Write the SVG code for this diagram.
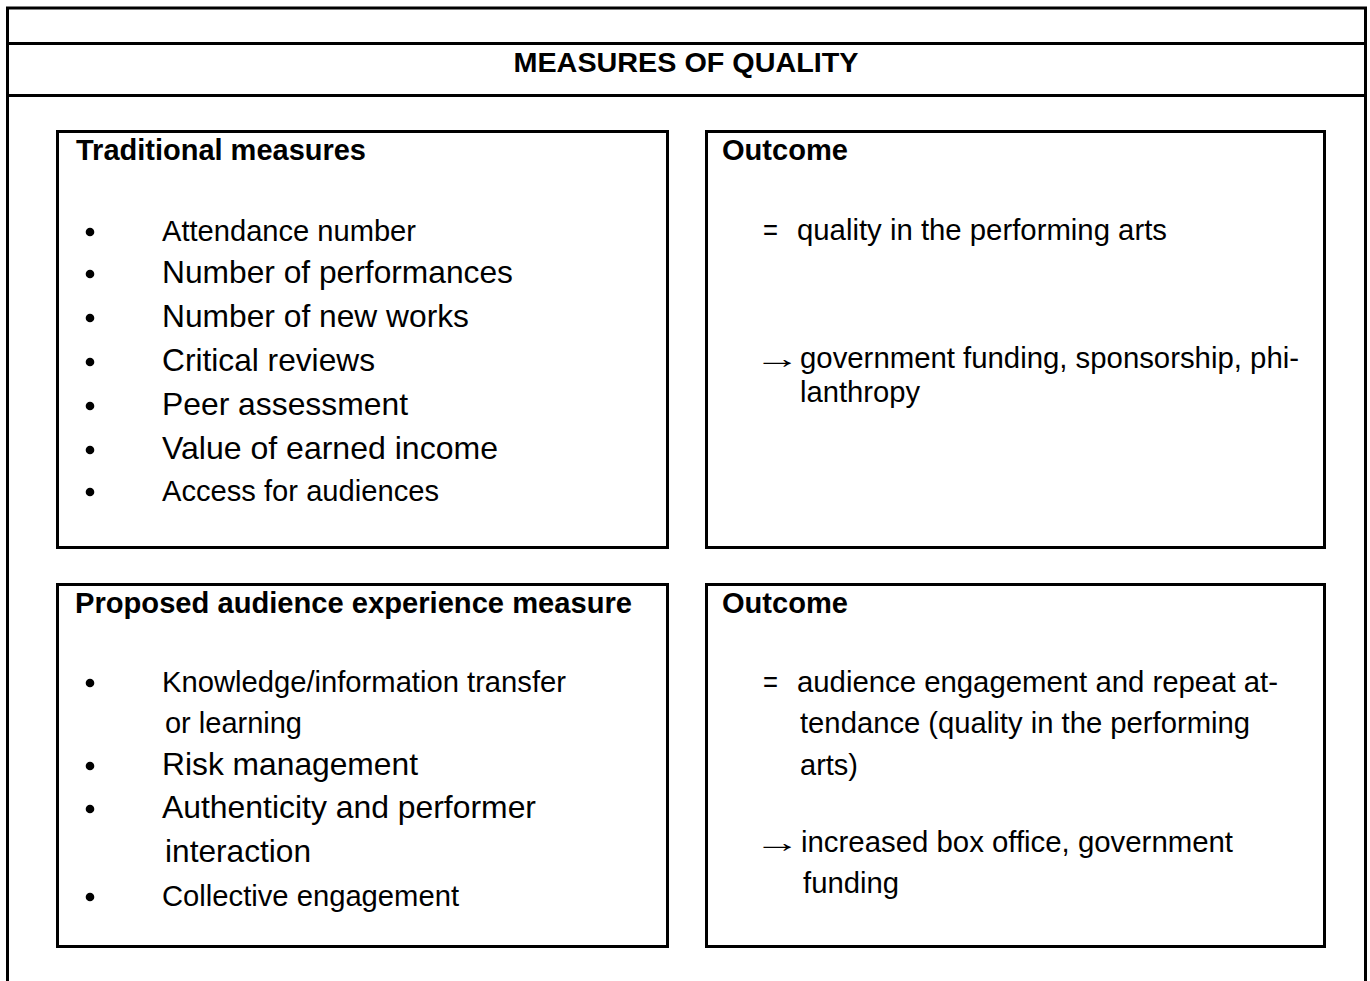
<svg xmlns="http://www.w3.org/2000/svg" width="1370" height="981" viewBox="0 0 1370 981">
  <style>
    .frame { fill: none; stroke: #000; stroke-width: 3; }
    .box { fill: #fff; stroke: #000; stroke-width: 3; }
    .dot { fill: #000; }
    text { font-family: "Liberation Sans", Arial, Helvetica, sans-serif; fill: #000; }
    .title { font-size: 28.5px; font-weight: bold; }
    .head { font-size: 29px; font-weight: bold; }
    .sm { font-size: 29px; }
    .lg { font-size: 31.8px; }
  </style>
  <rect width="1370" height="981" fill="#fff"/>

  <!-- outer table frame with title row -->
  <g id="frame">
    <path class="frame" d="M7.5,981 V8 H1365.5 V981"/>
    <line class="frame" x1="7.5" y1="43.5" x2="1365.5" y2="43.5"/>
    <line class="frame" x1="7.5" y1="95.5" x2="1365.5" y2="95.5"/>
    <text class="title" x="686" y="72" text-anchor="middle" textLength="345" lengthAdjust="spacingAndGlyphs">MEASURES OF QUALITY</text>
  </g>

  <!-- traditional measures -->
  <g id="traditional">
    <rect class="box" x="57.5" y="131.5" width="610" height="416"/>
    <text class="head" x="76" y="160" textLength="290" lengthAdjust="spacingAndGlyphs">Traditional measures</text>
    <circle class="dot" cx="90" cy="232" r="4.3"/>
    <text class="sm" x="162" y="241" textLength="254" lengthAdjust="spacingAndGlyphs">Attendance number</text>
    <circle class="dot" cx="90" cy="274" r="4.3"/>
    <text class="lg" x="162" y="283" textLength="351" lengthAdjust="spacingAndGlyphs">Number of performances</text>
    <circle class="dot" cx="90" cy="318" r="4.3"/>
    <text class="lg" x="162" y="327" textLength="307" lengthAdjust="spacingAndGlyphs">Number of new works</text>
    <circle class="dot" cx="90" cy="362" r="4.3"/>
    <text class="lg" x="162" y="371" textLength="213" lengthAdjust="spacingAndGlyphs">Critical reviews</text>
    <circle class="dot" cx="90" cy="406" r="4.3"/>
    <text class="lg" x="162" y="415" textLength="246" lengthAdjust="spacingAndGlyphs">Peer assessment</text>
    <circle class="dot" cx="90" cy="450" r="4.3"/>
    <text class="lg" x="162" y="459" textLength="336" lengthAdjust="spacingAndGlyphs">Value of earned income</text>
    <circle class="dot" cx="90" cy="492" r="4.3"/>
    <text class="sm" x="162" y="501" textLength="277" lengthAdjust="spacingAndGlyphs">Access for audiences</text>
  </g>

  <!-- outcome of traditional measures -->
  <g id="outcome-traditional">
    <rect class="box" x="706.5" y="131.5" width="618" height="416"/>
    <text class="head" x="722" y="160" textLength="126" lengthAdjust="spacingAndGlyphs">Outcome</text>
    <text class="sm" x="763" y="240" textLength="15" lengthAdjust="spacingAndGlyphs">=</text>
    <text class="sm" x="797" y="240" textLength="370" lengthAdjust="spacingAndGlyphs">quality in the performing arts</text>
    <text class="sm" transform="translate(754,368) scale(1.6,1)">→</text>
    <text class="sm" x="800" y="368" textLength="499" lengthAdjust="spacingAndGlyphs">government funding, sponsorship, phi-</text>
    <text class="sm" x="800" y="402" textLength="120" lengthAdjust="spacingAndGlyphs">lanthropy</text>
  </g>

  <!-- proposed audience experience measure -->
  <g id="audience-experience">
    <rect class="box" x="57.5" y="584.5" width="610" height="362"/>
    <text class="head" x="75" y="613" textLength="557" lengthAdjust="spacingAndGlyphs">Proposed audience experience measure</text>
    <circle class="dot" cx="90" cy="683" r="4.3"/>
    <text class="sm" x="162" y="692" textLength="404" lengthAdjust="spacingAndGlyphs">Knowledge/information transfer</text>
    <text class="sm" x="165" y="733" textLength="137" lengthAdjust="spacingAndGlyphs">or learning</text>
    <circle class="dot" cx="90" cy="766" r="4.3"/>
    <text class="lg" x="162" y="775" textLength="256" lengthAdjust="spacingAndGlyphs">Risk management</text>
    <circle class="dot" cx="90" cy="809" r="4.3"/>
    <text class="lg" x="162" y="818" textLength="374" lengthAdjust="spacingAndGlyphs">Authenticity and performer</text>
    <text class="lg" x="165" y="862" textLength="146" lengthAdjust="spacingAndGlyphs">interaction</text>
    <circle class="dot" cx="90" cy="897" r="4.3"/>
    <text class="sm" x="162" y="906" textLength="297" lengthAdjust="spacingAndGlyphs">Collective engagement</text>
  </g>

  <!-- outcome of audience experience measure -->
  <g id="outcome-audience">
    <rect class="box" x="706.5" y="584.5" width="618" height="362"/>
    <text class="head" x="722" y="613" textLength="126" lengthAdjust="spacingAndGlyphs">Outcome</text>
    <text class="sm" x="763" y="692" textLength="15" lengthAdjust="spacingAndGlyphs">=</text>
    <text class="sm" x="797" y="692" textLength="481" lengthAdjust="spacingAndGlyphs">audience engagement and repeat at-</text>
    <text class="sm" x="800" y="733" textLength="450" lengthAdjust="spacingAndGlyphs">tendance (quality in the performing</text>
    <text class="sm" x="800" y="775" textLength="58" lengthAdjust="spacingAndGlyphs">arts)</text>
    <text class="sm" transform="translate(754,852) scale(1.6,1)">→</text>
    <text class="sm" x="801" y="852" textLength="432" lengthAdjust="spacingAndGlyphs">increased box office, government</text>
    <text class="sm" x="803" y="893" textLength="96" lengthAdjust="spacingAndGlyphs">funding</text>
  </g>
</svg>
